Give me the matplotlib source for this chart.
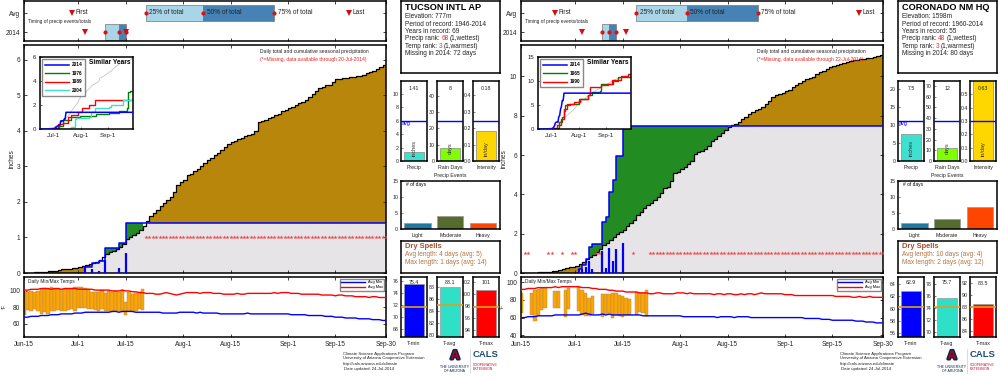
import numpy as np
import matplotlib as mpl
mpl.use('Agg')
import matplotlib.pyplot as plt
import matplotlib.patheffects as pe

plt.rcParams['font.family'] = ['Liberation Sans', 'DejaVu Sans']
plt.rcParams['axes.linewidth'] = 1.1
plt.rcParams['xtick.direction'] = 'in'
plt.rcParams['ytick.direction'] = 'in'

W, H = 1000, 377
days = np.arange(108)
date_ticks = [0, 16, 30, 47, 61, 78, 92, 107]
date_labels = ['Jun-15', 'Jul-1', 'Jul-15', 'Aug-1', 'Aug-15', 'Sep-1', 'Sep-15', 'Sep-30']

# ---- Tucson
tuc_avg = [0, 0, .01, .02, .02, .03, .04, .05, .06, .07,
           .09, .1, .11, .12, .13, .14, .17, .19, .23, .25,
           .29, .32, .36, .44, .53, .58, .63, .68, .72, .82,
           .95, 1.0, 1.07, 1.12, 1.21, 1.33, 1.46, 1.6, 1.68, 1.76,
           1.88, 1.98, 2.05, 2.15, 2.28, 2.48, 2.55, 2.62, 2.75, 2.8,
           2.88, 2.92, 3.0, 3.1, 3.18, 3.25, 3.32, 3.38, 3.45, 3.55,
           3.62, 3.68, 3.72, 3.76, 3.8, 3.85, 3.88, 3.92, 4.0, 4.25,
           4.28, 4.32, 4.36, 4.4, 4.44, 4.48, 4.55, 4.6, 4.65, 4.68,
           4.74, 4.78, 4.82, 4.88, 4.96, 5.03, 5.12, 5.2, 5.24, 5.28,
           5.3, 5.38, 5.46, 5.47, 5.49, 5.5, 5.52, 5.53, 5.55, 5.56,
           5.58, 5.62, 5.66, 5.7, 5.74, 5.8, 5.86, 5.9]
tuc_rain_days = [18, 20, 22, 24, 28, 30]
tuc_rain = [.18, .1, .05, .37, .15, .56]
tuc_missing = list(range(36, 108))
tuc_max_avg = [101, 101, 102, 102, 102, 103, 103, 103, 102, 103,
               103, 102, 103, 103, 103, 103, 102, 102, 102, 102,
               102, 101, 101, 101, 101, 101, 100, 100, 100, 101,
               100, 100, 99, 99, 98, 98, 97, 97, 97, 96,
               96, 97, 98, 97, 96, 95, 96, 97, 98, 98,
               98, 98, 97, 98, 98, 98, 97, 97, 97, 96,
               96, 96, 96, 97, 96, 96, 97, 97, 97, 97,
               97, 97, 97, 97, 98, 97, 98, 98, 98, 97,
               97, 97, 96, 96, 96, 96, 96, 96, 95, 95,
               95, 95, 94, 95, 95, 94, 94, 94, 93, 93,
               93, 93, 92, 93, 93, 92, 92, 92]
tuc_min_avg = [68, 68, 69, 69, 69, 70, 70, 70, 71, 71,
               71, 72, 72, 72, 72, 73, 73, 73, 74, 74,
               74, 74, 74, 74, 74, 74, 75, 75, 74, 75,
               75, 75, 75, 74, 74, 74, 74, 74, 74, 74,
               74, 73, 73, 73, 73, 73, 74, 74, 74, 74,
               74, 73, 74, 73, 73, 73, 73, 73, 72, 72,
               72, 72, 72, 72, 72, 72, 73, 72, 72, 72,
               72, 72, 72, 72, 72, 72, 72, 72, 72, 71,
               71, 71, 71, 71, 70, 70, 70, 70, 70, 69,
               69, 69, 68, 68, 68, 67, 67, 67, 67, 66,
               66, 66, 66, 65, 65, 65, 64, 64]
tuc_t_days = list(range(36))
tuc_t_high = [100, 99, 100, 99, 100, 102, 104, 102, 105, 102, 102, 101,
              102, 102, 102, 105, 105, 105, 104, 102, 99, 99, 99, 101,
              98, 100, 99, 100, 99, 101, 87, 99, 96, 97, 99, 102]
tuc_t_low = [71, 77, 76, 78, 75, 72, 74, 72, 75, 76, 77, 75,
             75, 77, 78, 76, 79, 79, 79, 78, 78, 77, 76, 78,
             76, 76, 74, 76, 76, 74, 71, 76, 74, 76, 78, 77]
tuc_timing_avg = [14, 36, 53, 74, 96]
tuc_timing_2014 = [18, 24, 28, 30, 30]
tuc_sim_names = ['1976', '1989', '2004']
tuc_sim_days = [[0, 22, 26, 36, 46, 65, 80, 91, 100, 101, 104],
                [0, 15, 21, 26, 32, 36, 44, 49, 57, 63, 95],
                [0, 28, 36, 40, 42, 57, 59, 63, 80, 82, 94, 96]]
tuc_sim_vals = [[0, .3, .8, 1.0, 1.1, 1.3, 1.35, 1.55, 1.8, 3.1, 3.2],
                [0, .1, .45, .5, 1.05, 1.2, 1.45, 1.75, 2.0, 2.4, 2.45],
                [0, .05, .2, .85, .9, 1.0, 1.45, 1.75, 1.85, 2.05, 2.05, 2.45]]
tuc_sim_colors = ['green', 'red', 'turquoise']

# ---- Coronado
cor_avg = [0, 0, 0, .01, .02, .03, .04, .05, .07, .08,
           .1, .15, .2, .25, .28, .32, .38, .45, .55, .7,
           .8, .9, 1.05, 1.2, 1.4, 1.55, 1.7, 1.85, 2.0, 2.1,
           2.2, 2.4, 2.55, 2.7, 2.95, 3.1, 3.3, 3.45, 3.55, 3.7,
           3.85, 4.05, 4.3, 4.4, 4.7, 5.07, 5.15, 5.3, 5.4, 5.55,
           5.7, 6.05, 6.15, 6.2, 6.3, 6.45, 6.7, 6.8, 6.95, 7.1,
           7.3, 7.45, 7.52, 7.6, 7.7, 7.85, 7.95, 8.1, 8.2, 8.3,
           8.36, 8.45, 8.6, 8.75, 8.95, 9.05, 9.12, 9.18, 9.25, 9.3,
           9.45, 9.55, 9.65, 9.75, 9.85, 9.9, 9.95, 10.1, 10.25, 10.3,
           10.4, 10.5, 10.55, 10.6, 10.65, 10.7, 10.75, 10.78, 10.82, 10.85,
           10.88, 10.9, 10.93, 10.96, 11.0, 11.05, 11.08, 11.12]
cor_rain_days = [17, 18, 19, 20, 21, 24, 25, 26, 27, 28, 30]
cor_rain = [.2, .2, .3, .6, .2, 1.1, .26, 1.27, .6, 1.22, 1.55]
cor_missing = [1, 2, 8, 9, 12, 15, 16, 22, 23, 33] + list(range(38, 108))
cor_max_avg = [92, 92, 93, 93, 93, 94, 94, 94, 94, 94,
               95, 94, 95, 95, 95, 95, 95, 95, 94, 94,
               94, 93, 93, 92, 92, 92, 91, 91, 90, 90,
               90, 89, 89, 89, 89, 88, 88, 88, 87, 87,
               88, 88, 87, 87, 87, 87, 88, 88, 88, 87,
               88, 87, 87, 87, 87, 87, 87, 86, 87, 87,
               86, 87, 87, 86, 86, 87, 86, 87, 87, 86,
               87, 88, 87, 87, 87, 87, 87, 87, 86, 86,
               86, 85, 85, 85, 85, 85, 85, 85, 85, 85,
               85, 85, 85, 84, 84, 84, 84, 84, 83, 83,
               84, 83, 83, 84, 83, 83, 83, 83]
cor_min_avg = [60, 60, 61, 61, 61, 62, 62, 62, 62, 62,
               63, 63, 63, 63, 63, 63, 63, 63, 64, 65,
               64, 63, 63, 63, 64, 63, 64, 63, 63, 63,
               63, 63, 63, 63, 63, 63, 62, 62, 62, 62,
               62, 62, 62, 62, 62, 62, 62, 62, 61, 61,
               61, 61, 61, 61, 61, 61, 61, 61, 60, 61,
               61, 61, 61, 60, 61, 61, 61, 61, 60, 60,
               60, 60, 60, 60, 60, 60, 60, 60, 60, 60,
               60, 60, 60, 60, 59, 59, 59, 59, 59, 58,
               58, 58, 57, 57, 57, 57, 57, 57, 57, 56,
               56, 56, 55, 55, 55, 54, 54, 54]
cor_t_days = [0, 3, 4, 5, 6, 7, 10, 11, 13, 14, 17, 18, 19, 20, 21,
              24, 25, 26, 27, 28, 29, 30, 31, 32, 34, 35, 36, 37]
cor_t_high = [87.6, 87.6, 91.3, 92.5, 93.2, 93.2, 90.6, 90.6, 91.3, 94, 94.3, 91.3, 87.6, 82, 85,
              86.5, 86.9, 87.2, 87.6, 87.6, 85.7, 85, 82, 81.2, 88.7, 87.6, 87.6, 91.3]
cor_t_low = [65, 63.3, 56.5, 62.5, 68.9, 70.7, 70.7, 70.7, 60.6, 69.6, 68, 63.3, 61.4, 61.4, 64.4,
             60.6, 64.4, 65, 59.5, 62.5, 61.4, 60.3, 63.3, 63.3, 63.3, 65.9, 65, 61.4]
cor_timing_avg = [10, 34, 49, 70, 100]
cor_timing_2014 = [18, 24, 26, 28, 31]
cor_sim_names = ['1965', '1990']
cor_sim_days = [[0, 22, 24, 28, 30, 31, 37, 47, 58, 62, 71, 73, 87, 92, 104],
                [0, 10, 18, 22, 26, 30, 33, 41, 49, 58, 60, 73, 81, 85, 96, 104]]
cor_sim_vals = [[0, .3, 1.5, 2.5, 3.9, 5.0, 5.3, 6.2, 7.1, 7.8, 8.0, 9.5, 10.1, 10.8, 10.9],
                [0, .1, .3, .8, 2.2, 4.3, 5.3, 5.7, 6.2, 7.1, 8.8, 9.2, 9.5, 10.2, 11.1, 11.4]]
cor_sim_colors = ['green', 'red']


fig = plt.figure(figsize=(W / 100, H / 100), dpi=100)


def px_ax(x0, y0, x1, y1, zorder=1):
    return fig.add_axes([x0 / W, 1 - y1 / H, (x1 - x0) / W, (y1 - y0) / H], zorder=zorder)


def ftext(x, y, s, **kw):
    kw.setdefault('fontsize', 4.8)
    kw.setdefault('va', 'center')
    kw.setdefault('color', '#222222')
    kw.setdefault('zorder', 20)
    return fig.text(x / W, 1 - y / H, s, **kw)


def date_axis(ax, labels=False):
    ax.set_xlim(0, 107)
    ax.set_xticks(date_ticks)
    ax.set_xticklabels(date_labels if labels else [])
    ax.tick_params(top=True, right=True, length=2, width=.6, labelsize=4.7, pad=3, colors='#222222')


def small_bar(ax, value, color, avg, ylim, ticks, top_label, inner, xlabel, avg_text=False):
    ax.bar([0], [value], width=.8, color=color, edgecolor='#888888', lw=.5)
    ax.axhline(avg, color='blue', lw=1.0, zorder=3)
    ax.set_xlim(-.5, .5)
    ax.set_ylim(*ylim)
    ax.set_xticks([])
    ax.set_yticks(ticks)
    ax.tick_params(length=1.5, width=.4, labelsize=3.8, pad=1.5, colors='#222222')
    span = ylim[1] - ylim[0]
    ax.text(0, ylim[1] - span * .1, top_label, ha='center', va='center', fontsize=3.8, color='#222222', zorder=4)
    ax.text(.02, ylim[0] + span * .16, inner, rotation=90, ha='center', va='center', fontsize=4, color='#333333', zorder=4)
    if avg_text:
        ax.text(-.48, avg, 'avg', ha='left', va='top', fontsize=4, color='blue', zorder=4)
    ax.set_xlabel(xlabel, fontsize=3.8, labelpad=3, color='#222222')


def draw_station(dx, name, info, ranks, avg, rain_days, rain, missing, max_avg, min_avg, t_days, t_high, t_low,
                 timing_avg, timing_2014, ymax, yticks, t_ylim, t_yticks, ins_ymax, ins_yticks, sim_names, sim_days,
                 sim_vals, sim_colors, note, bars, events, dry, tbars, inch_x, degf_x):
    # top timing strip
    ax = px_ax(24.3 + dx, 1, 386 + dx, 41)
    date_axis(ax)
    ax.set_ylim(.53, 2.63)
    ax.set_yticks([1, 2])
    ax.set_yticklabels(['2014', 'Avg'])
    for y, t in [(2, timing_avg), (1, timing_2014)]:
        ax.barh(y, t[2] - t[1], left=t[1], height=.84, color='#a9d5e8', edgecolor='#777777', lw=.5)
        ax.barh(y, t[3] - t[2], left=t[2], height=.84, color='#4682b4', edgecolor='#777777', lw=.5)
        ax.plot(t[1:4], [y] * 3, 'o', color='#e01010', ms=3, mew=0, zorder=4)
        ax.plot([t[0], t[4]], [y, y], 'v', color='#d01010', ms=3.8, mew=0, zorder=4)
    for d, s in zip(timing_avg, ['First', '25% of total', '50% of total', '75% of total', 'Last']):
        ax.text(d + 1.0, 2, s, fontsize=4.7, va='center', color='#222222', zorder=5)
    ftext(28 + dx, 21.5, 'Timing of precip events/totals', fontsize=3.4)

    # main cumulative panel
    ax = px_ax(24.3 + dx, 45, 386 + dx, 273)
    date_axis(ax)
    y14 = np.zeros(108)
    y14[rain_days] = rain
    y14 = np.cumsum(y14)
    avg = np.array(avg)
    low = np.minimum(avg, y14)
    ax.fill_between(days, 0, low, step='post', color='#e6e4e6', lw=0)
    ax.fill_between(days, y14, avg, where=avg >= y14, step='post', color='#b8860b', lw=0)
    ax.fill_between(days, avg, y14, where=y14 >= avg, step='post', color='#228b22', lw=0)
    ax.plot(days, avg, drawstyle='steps-post', color='black', lw=.9)
    first = rain_days[0]
    ax.plot(days[first:], y14[first:], drawstyle='steps-post', color='blue', lw=1.1, zorder=3)
    ax.vlines(rain_days, 0, rain, color='blue', lw=1.6, zorder=3)
    ax.plot(missing, [1.0] * len(missing), '*', color='#f04040', ms=3, mew=0, zorder=3)
    ax.set_ylim(0, ymax)
    ax.set_yticks(yticks)
    ax.set_ylabel('inches', fontsize=4.7, color='#222222')
    ax.yaxis.set_label_coords((inch_x - 24.3) / 362, .5)
    ftext(260 + dx, 52, 'Daily total and cumulative seasonal precipitation', fontsize=3.65)
    ftext(260 + dx, 59, note, fontsize=3.65, color='#f02020')

    # similar years inset
    shift = 1 if dx else 0
    ins = px_ax(40 + dx + shift, 57, 132.7 + dx + shift, 129.3, zorder=5)
    ins.plot(days, avg, color='#bbbbbb', lw=.5)
    ins.plot(days, y14, color='blue', lw=1.1, label='2014', zorder=4)
    for n, d, v, c in zip(sim_names, sim_days, sim_vals, sim_colors):
        ins.plot(d + [107], v + [v[-1]], drawstyle='steps-post', color=c, lw=1.0, label=n)
    ins.set_xlim(0, 107)
    ins.set_xticks([16, 47, 78])
    ins.set_xticklabels(['Jul-1', 'Aug-1', 'Sep-1'])
    ins.set_ylim(0, ins_ymax)
    ins.set_yticks(ins_yticks)
    ins.tick_params(length=1.5, width=.5, labelsize=4.4, pad=2.5, colors='#222222')
    ins.legend(loc='upper left', prop={'size': 3.4, 'weight': 'bold'}, frameon=True, fancybox=False,
               edgecolor='#888888', framealpha=1, handlelength=5, labelspacing=.75, borderaxespad=.5, borderpad=.6,
               handletextpad=.6)
    ins.text(.98, .92, 'Similar Years', transform=ins.transAxes, fontsize=4.7, weight='bold', ha='right', va='center')

    # daily temps
    ax = px_ax(24.3 + dx, 277, 386 + dx, 337)
    date_axis(ax, True)
    ax.set_ylim(*t_ylim)
    ax.set_yticks(t_yticks)
    hi = np.array(t_high)
    lo = np.array(t_low)
    ax.bar(t_days, hi - lo, bottom=lo, width=1, color='#ffa500', edgecolor='#a08860', lw=.3, zorder=2)
    ax.plot(days, min_avg, color='blue', lw=1.0, label='Avg Min', zorder=3)
    ax.plot(days, max_avg, color='red', lw=1.0, label='Avg Max', zorder=3)
    ax.legend(loc='upper right', fontsize=2.8, frameon=True, fancybox=False, edgecolor='#888888', framealpha=1,
              handlelength=6, labelspacing=.25, borderaxespad=.4, borderpad=.4)
    ax.set_ylabel('\u00b0F', fontsize=3.6, color='#222222')
    ax.yaxis.set_label_coords((degf_x - 24.3) / 362, .5)
    ftext(28 + dx, 281, 'Daily Min/Max Temps', fontsize=3.5)

    # station info box
    ax = px_ax(401 + dx, 1, 499.5 + dx, 73)
    ax.set_xticks([])
    ax.set_yticks([])
    ftext(405 + dx, 8, name, fontsize=6.6, weight='bold', color='black')
    for y, s in zip([17, 24.3, 31.3], info):
        ftext(405 + dx, y, s, fontsize=4.7)
    rend = fig.canvas.get_renderer()
    for y, (a, b, c) in zip([39, 46.3], ranks):
        t = ftext(405 + dx, y, a, fontsize=4.7)
        e = t.get_window_extent(rend)
        t2 = ftext(e.x1 + 1.5, y, b, fontsize=4.7, color='#f03030')
        e2 = t2.get_window_extent(rend)
        ftext(e2.x1 + 1.5, y, c, fontsize=4.7)
    ftext(405 + dx, 53.7, info[3], fontsize=4.7)

    # season summary bars
    for i, (x0, b) in enumerate(zip([401, 437, 473], bars)):
        ax = px_ax(x0 + dx, 81, x0 + 26 + dx, 161)
        small_bar(ax, b['value'], b['color'], b['avg'], b['ylim'], b['ticks'], b['label'], b['inner'], b['xlabel'],
                  avg_text=(i == 0))

    # precip events
    ftext(450 + dx, 175, 'Precip Events', fontsize=3.8, ha='center')
    ax = px_ax(401 + dx, 181, 499.5 + dx, 229)
    ax.bar([0, 1, 2], events, width=.8, color=['#1f78a0', '#556b2f', '#ff4500'], edgecolor='#999999', lw=.5)
    ax.set_xlim(-.5, 2.5)
    ax.set_ylim(0, 15)
    ax.set_xticks([0, 1, 2])
    ax.set_xticklabels(['Light', 'Moderate', 'Heavy'])
    ax.set_yticks([0, 5, 10, 15])
    ax.tick_params(length=1.5, width=.4, labelsize=3.8, pad=2, colors='#222222')
    ax.tick_params(axis='x', length=0, pad=3)
    ax.text(.05, .92, '# of days', transform=ax.transAxes, fontsize=3.5, va='center')

    # dry spells
    ax = px_ax(401 + dx, 241, 499.5 + dx, 273)
    ax.set_xticks([])
    ax.set_yticks([])
    ftext(405 + dx, 247, 'Dry Spells', fontsize=5.4, weight='bold', color='#a0522d')
    ftext(405 + dx, 254.5, dry[0], fontsize=4.7, color='#b5733f')
    ftext(405 + dx, 262, dry[1], fontsize=4.7, color='#b5733f')

    # temperature bars
    for x0, b in zip([401, 437, 473], tbars):
        ax = px_ax(x0 + dx, 277, x0 + 26 + dx, 337)
        ax.bar([0], [b['value'] - b['ylim'][0]], bottom=b['ylim'][0], width=.8, color=b['color'], edgecolor='#999999', lw=.5)
        ax.axhline(b['avg'], color='#d9a020', lw=1.2, zorder=3)
        ax.set_xlim(-.5, .5)
        ax.set_ylim(*b['ylim'])
        ax.set_xticks([])
        ax.set_yticks(b['ticks'])
        ax.tick_params(length=1.5, width=.4, labelsize=3.8, pad=1.5, colors='#222222')
        ax.text(0, b['ylim'][1] - (b['ylim'][1] - b['ylim'][0]) * .1, b['label'], ha='center', va='center', fontsize=3.8,
                color='#222222', zorder=4)
        ax.set_xlabel(b['xlabel'], fontsize=3.8, labelpad=3, color='#222222')

    # footer
    for y, s, xo in zip([353.5, 358.5, 363.5, 368.7],
                        ['Climate Science Applications Program', 'University of Arizona Cooperative Extension',
                         'http://cals.arizona.edu/climate', 'Date updated: 24-Jul-2014'], [343, 343, 343, 344]):
        ftext(xo + dx, y, s, fontsize=3.05)
    ftext(455 + dx, 356, 'A', fontsize=9, weight='bold', color='#ab0520', ha='center',
          path_effects=[pe.withStroke(linewidth=2.2, foreground='#0c234b')])
    ftext(455 + dx, 367.5, 'THE UNIVERSITY', fontsize=2.5, color='#0c234b', ha='center')
    ftext(455 + dx, 371.5, 'OF ARIZONA', fontsize=2.5, color='#0c234b', ha='center')
    fig.add_artist(plt.Line2D([(469.5 + dx) / W] * 2, [1 - 349 / H, 1 - 373 / H], color='#cccccc', lw=.5))
    ftext(473 + dx, 354.5, 'CALS', fontsize=6.8, weight='bold', color='#1c4f80')
    ftext(473 + dx, 364.5, 'COOPERATIVE', fontsize=2.5, color='#c8102e')
    ftext(473 + dx, 368.5, 'EXTENSION', fontsize=2.5, color='#c8102e')


draw_station(0, 'TUCSON INTL AP',
             ['Elevation: 777m', 'Period of record: 1946-2014', 'Years in record: 69', 'Missing in 2014: 72 days'],
             [('Precip rank:', '68', '(1,wettest)'), ('Temp rank:', '3', '(1,warmest)')],
             tuc_avg, tuc_rain_days, tuc_rain, tuc_missing, tuc_max_avg, tuc_min_avg, tuc_t_days, tuc_t_high, tuc_t_low,
             tuc_timing_avg, tuc_timing_2014, 6.42, [0, 1, 2, 3, 4, 5, 6], (43.8, 117), [60, 80, 100],
             6, [0, 2, 4, 6], tuc_sim_names, tuc_sim_days, tuc_sim_vals, tuc_sim_colors,
             '(*=Missing, data available through 20-Jul-2014)',
             [dict(value=1.41, color='#40e0d0', avg=5.97, ylim=(0, 11.94), ticks=[0, 2, 4, 6, 8, 10], label='1.41', inner='inches', xlabel='Precip'),
              dict(value=8, color='#7fff00', avg=24.5, ylim=(0, 49), ticks=[0, 10, 20, 30, 40], label='8', inner='days', xlabel='Rain Days'),
              dict(value=.18, color='#ffd700', avg=.245, ylim=(0, .488), ticks=[0, .1, .2, .3, .4], label='0.18', inner='in/day', xlabel='Intensity')],
             [2, 4, 2], ['Avg length: 4 days (avg: 5)', 'Max length: 1 days (avg: 14)'],
             [dict(value=75.4, color='#0000ff', avg=71.67, ylim=(66.67, 76.6), ticks=[68, 70, 72, 74, 76], label='75.4', xlabel='T-min'),
              dict(value=88.1, color='#2fe0c8', avg=85, ylim=(79.67, 89.7), ticks=[80, 82, 84, 86, 88], label='88.1', xlabel='T-avg'),
              dict(value=100.7, color='#ff0000', avg=97.8, ylim=(92.8, 102.8), ticks=[94, 96, 98, 100, 102], label='101', xlabel='T-max')],
             15.5, 7)

draw_station(497, 'CORONADO NM HQ',
             ['Elevation: 1598m', 'Period of record: 1960-2014', 'Years in record: 55', 'Missing in 2014: 80 days'],
             [('Precip rank:', '48', '(1,wettest)'), ('Temp rank:', '3', '(1,warmest)')],
             cor_avg, cor_rain_days, cor_rain, cor_missing, cor_max_avg, cor_min_avg, cor_t_days, cor_t_high, cor_t_low,
             cor_timing_avg, cor_timing_2014, 11.6, [0, 2, 4, 6, 8, 10], (38, 106), [40, 60, 80, 100],
             15, [0, 5, 10, 15], cor_sim_names, cor_sim_days, cor_sim_vals, cor_sim_colors,
             '(*=Missing, data available through 22-Jul-2014)',
             [dict(value=7.5, color='#40e0d0', avg=11.1, ylim=(0, 22.2), ticks=[0, 5, 10, 15, 20], label='7.5', inner='inches', xlabel='Precip'),
              dict(value=12, color='#7fff00', avg=37.3, ylim=(0, 74.7), ticks=list(range(0, 71, 10)), label='12', inner='days', xlabel='Rain Days'),
              dict(value=.63, color='#ffd700', avg=.3, ylim=(0, .6), ticks=[0, .1, .2, .3, .4, .5], label='0.63', inner='in/day', xlabel='Intensity')],
             [2, 3, 7], ['Avg length: 10 days (avg: 4)', 'Max length: 2 days (avg: 12)'],
             [dict(value=62.9, color='#0000ff', avg=60.3, ylim=(55.3, 65.2), ticks=[56, 58, 60, 62, 64], label='62.9', xlabel='T-min'),
              dict(value=75.7, color='#2fe0c8', avg=74.2, ylim=(69.2, 79.2), ticks=[70, 72, 74, 76, 78], label='75.7', xlabel='T-avg'),
              dict(value=88.5, color='#ff0000', avg=88, ylim=(83, 93), ticks=[84, 86, 88, 90, 92], label='88.5', xlabel='T-max')],
             10.5, 8)

fig.savefig('out.png', dpi=100)
